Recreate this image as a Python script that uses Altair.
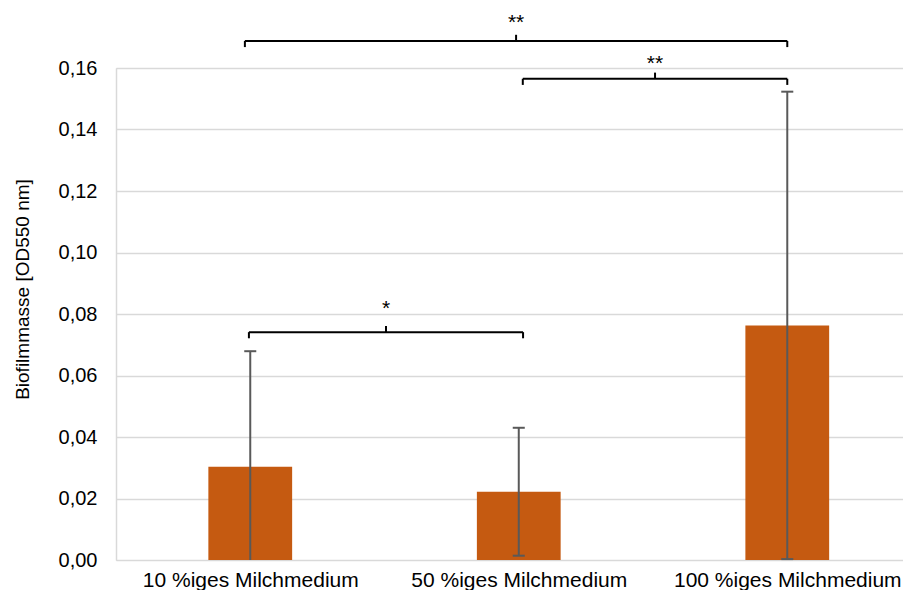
import altair as alt
import pandas as pd

# ---- data ----
categories = ["10 %iges Milchmedium", "50 %iges Milchmedium", "100 %iges Milchmedium"]
means = [0.0303, 0.0222, 0.0763]
sds = [0.0376, 0.0208, 0.0760]

# significance brackets: start, end (category index units), level, label, label level
br_x1 = [-0.02, 1.015, -0.005]
br_x2 = [2.0, 2.0, 1.016]
br_y = [0.1688, 0.1565, 0.0741]
br_label = ["**", "**", "*"]
br_label_y = [0.1767, 0.1634, 0.0837]

y_ticks = [0.0, 0.02, 0.04, 0.06, 0.08, 0.10, 0.12, 0.14, 0.16]

BAR_HALF = 0.156
CAP_HALF = 0.0224
HOOK = 0.002

idx = list(range(len(categories)))
bars = pd.DataFrame({
    "i": idx,
    "cat": categories,
    "mean": means,
    "zero": [0.0] * len(idx),
    "x1": [i - BAR_HALF for i in idx],
    "x2": [i + BAR_HALF for i in idx],
    "lo": [max(0.0, m - s) for m, s in zip(means, sds)],
    "hi": [m + s for m, s in zip(means, sds)],
    "c1": [i - CAP_HALF for i in idx],
    "c2": [i + CAP_HALF for i in idx],
})
lowcaps = bars[bars["lo"] > 0]

# bracket pieces
h_rows, v_rows, t_rows = [], [], []
for a, b, y, lab, ly in zip(br_x1, br_x2, br_y, br_label, br_label_y):
    mid = (a + b) / 2
    h_rows.append({"xa": a, "xb": b, "y": y})
    v_rows.append({"x": a, "ya": y, "yb": y - HOOK})
    v_rows.append({"x": b, "ya": y, "yb": y - HOOK})
    v_rows.append({"x": mid, "ya": y, "yb": y + HOOK})
    t_rows.append({"x": mid, "y": ly, "t": lab})
hdf = pd.DataFrame(h_rows)
vdf = pd.DataFrame(v_rows)
tdf = pd.DataFrame(t_rows)

label_expr = "[" + ",".join("'" + c + "'" for c in categories) + "][datum.value]"

xscale = alt.Scale(domain=[-0.5, 2.431], nice=False, zero=False)
yscale = alt.Scale(domain=[0, 0.16], nice=False)

FONT = "Liberation Sans"

xaxis = alt.Axis(values=idx, labelExpr=label_expr, grid=False, ticks=False, domain=False,
                 labelFontSize=21, labelFont=FONT, labelColor="#000000", labelPadding=9,
                 labelLimit=400, title=None, labelAngle=0)
yaxis = alt.Axis(values=y_ticks, labelExpr="replace(format(datum.value, '.2f'), '.', ',')",
                 grid=True, gridColor="#d9d9d9", gridWidth=1.5, ticks=False,
                 domain=True, domainColor="#d9d9d9", domainWidth=1.5,
                 labelFontSize=20, labelFont=FONT, labelColor="#000000", labelPadding=19,
                 title="Biofilmmasse [OD550 nm]", titleFont=FONT, titleFontSize=19,
                 titleFontWeight="normal", titleColor="#000000",
                 titleAngle=270, titleX=-94, titleY=221, titleAlign="center",
                 titleBaseline="middle")

base_bar = alt.Chart(bars)
bar_layer = base_bar.mark_bar(color="#C55A11").encode(
    x=alt.X("x1:Q", scale=xscale, axis=xaxis),
    x2="x2:Q",
    y=alt.Y("mean:Q", scale=yscale, axis=yaxis),
    y2="zero:Q",
)
err_line = base_bar.mark_rule(color="#595959", strokeWidth=2).encode(
    x="i:Q", y="lo:Q", y2="hi:Q")
err_cap = base_bar.mark_rule(color="#595959", strokeWidth=2).encode(
    x="c1:Q", x2="c2:Q", y="hi:Q")
err_low = alt.Chart(lowcaps).mark_rule(color="#595959", strokeWidth=2).encode(
    x="c1:Q", x2="c2:Q", y="lo:Q")

br_h = alt.Chart(hdf).mark_rule(color="#000000", strokeWidth=2).encode(
    x="xa:Q", x2="xb:Q", y="y:Q")
br_v = alt.Chart(vdf).mark_rule(color="#000000", strokeWidth=2).encode(
    x="x:Q", y="ya:Q", y2="yb:Q")
br_t = alt.Chart(tdf).mark_text(font=FONT, fontSize=21, color="#000000",
                                baseline="alphabetic", dy=12).encode(
    x="x:Q", y="y:Q", text="t:N")

chart = alt.layer(bar_layer, err_line, err_cap, err_low, br_h, br_v, br_t).properties(
    width=787, height=492,
    autosize=alt.AutoSizeParams(type="none"),
    padding={"left": 108, "top": 60, "right": 0, "bottom": 30},
).configure_view(stroke=None).configure(background="white")

chart.save("out.html", embed_options={"renderer": "svg", "actions": False})
